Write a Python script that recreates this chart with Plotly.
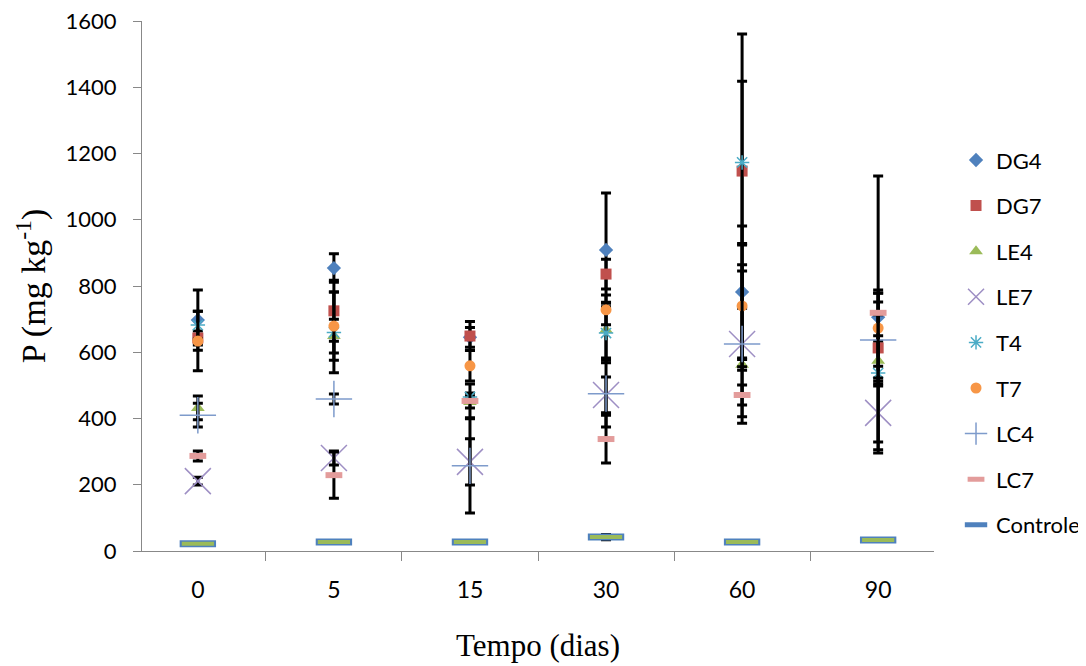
import plotly.graph_objects as go

categories = ["0", "5", "15", "30", "60", "90"]

DG4 = [697, 854, 645, 909, 782, 706]
DG4_err = [91, 43, 30, 172, 199, 73]
DG7 = [643, 725, 649, 836, 1147, 613]
DG7_err = [21, 92, 44, 45, 414, 100]
LE4 = [432, 649, 450, 667, 562, 574]
LE4_err = [36, 51, 18, 84, 16, 76]
LE7 = [211, 281, 269, 471, 625, 417]
LE7_err = [12, 21, 70, 54, 220, 88]
T4 = [682, 660, 465, 658, 1173, 537]
T4_err = [42, 122, 12, 90, 245, 241]
T7 = [634, 679, 559, 728, 740, 673]
T7_err = [90, 103, 46, 45, 184, 115]
LC4 = [410, 459, 257, 475, 625, 637]
LC4_err = [36, 15, 142, 101, 239, 115]
LC7 = [287, 229, 453, 338, 471, 719]
LC7_err = [15, 70, 51, 72, 30, 413]
Controle = [22, 27, 27, 42, 27, 33]
Controle_err = [3, 3, 3, 8, 3, 3]

series = [
    ("DG4", DG4, DG4_err, dict(symbol="diamond", size=11, color="#4F81BD")),
    ("DG7", DG7, DG7_err, dict(symbol="square", size=11, color="#C0504D")),
    ("LE4", LE4, LE4_err, dict(symbol="triangle-up", size=12, color="#9BBB59")),
    ("LE7", LE7, LE7_err, dict(symbol="x-thin-open", size=26, color="#9E8FC4",
                               line=dict(width=1.5, color="#9E8FC4"))),
    ("T4", T4, T4_err, dict(symbol="asterisk-open", size=12, color="#4BACC6",
                            line=dict(width=1.5, color="#4BACC6"))),
    ("T7", T7, T7_err, dict(symbol="circle", size=11, color="#F79646")),
    ("LC4", LC4, LC4_err, dict(symbol="cross-thin-open", size=26, color="#7E9BCB",
                               line=dict(width=1.5, color="#7E9BCB"))),
    ("LC7", LC7, LC7_err, dict(symbol="line-ew", size=12, color="#E39C9B",
                               line=dict(width=6, color="#E39C9B"))),
]

fig = go.Figure()
for name, vals, errs, mk in series:
    fig.add_trace(go.Scatter(
        x=categories, y=vals, mode="markers", name=name, legendgroup=name,
        marker=mk,
        error_y=dict(type="data", array=errs, visible=True, color="black",
                     thickness=3, width=5),
    ))

fig.add_trace(go.Scatter(
    x=categories, y=Controle, mode="markers", name="Controle", legendgroup="Controle",
    marker=dict(symbol="line-ew", size=26, color="#4F81BD",
                line=dict(width=7, color="#4F81BD")),
    error_y=dict(type="data", array=Controle_err, visible=True, color="black",
                 thickness=3, width=5),
))
fig.add_trace(go.Scatter(
    x=categories, y=Controle, mode="markers", name="Controle", legendgroup="Controle",
    showlegend=False, hoverinfo="skip",
    marker=dict(symbol="line-ew", size=23, color="#9BBB59",
                line=dict(width=4, color="#9BBB59")),
))

fig.update_layout(
    width=1078, height=658,
    paper_bgcolor="white", plot_bgcolor="white",
    margin=dict(l=134, r=152, t=13, b=115, autoexpand=False),
    font=dict(family="Lato, Open Sans, sans-serif", size=22, color="black"),
    showlegend=True,
    legend=dict(x=1.0278, y=0.777, xanchor="left", yanchor="top",
                tracegroupgap=14, font=dict(size=22),
                bgcolor="rgba(0,0,0,0)"),
    xaxis=dict(
        type="category", showgrid=False, zeroline=False,
        showline=True, linecolor="#888888", linewidth=1,
        ticks="outside", tickson="boundaries", ticklen=9, tickcolor="#888888",
        tickfont=dict(size=23), ticklabelstandoff=18,
        title=dict(text="Tempo (dias)",
                   font=dict(family="Liberation Serif, Times New Roman, serif", size=31),
                   standoff=32),
    ),
    yaxis=dict(
        range=[0, 1600], dtick=200, showgrid=False, zeroline=False,
        showline=True, linecolor="#888888", linewidth=1,
        ticks="outside", ticklen=8, tickcolor="#888888",
        tickfont=dict(size=22), ticklabelstandoff=12, ticklabeloverflow="allow",
        title=dict(text="P (mg kg<sup>-1</sup>)",
                   font=dict(family="Liberation Serif, Times New Roman, serif", size=34),
                   standoff=9),
    ),
)

fig.write_html("out.html")
